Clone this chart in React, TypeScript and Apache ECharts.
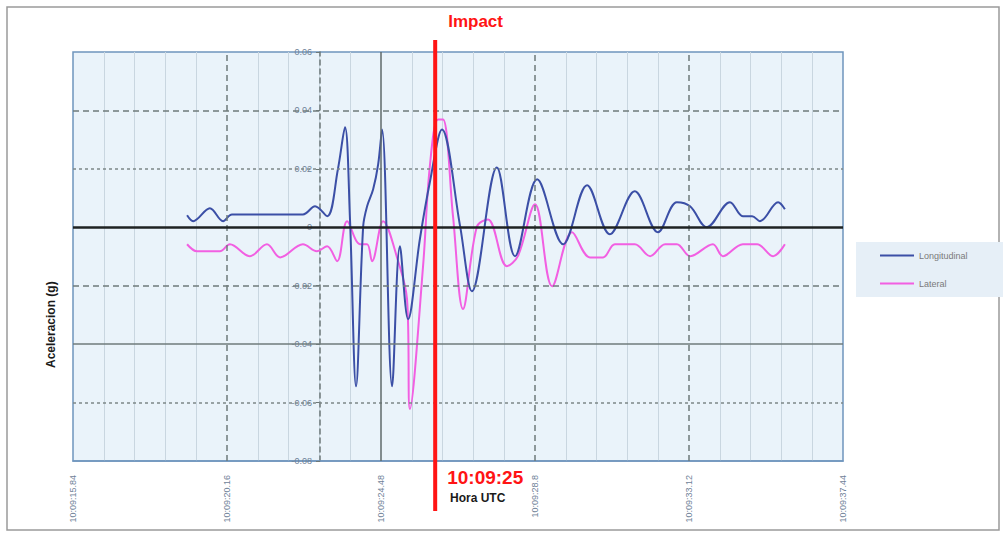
import React, { useEffect, useRef } from "react";
import * as echarts from "echarts";

// ---- data ----
const xTickLabels = ["10:09:15.84", "10:09:20.16", "10:09:24.48", "10:09:28.8", "10:09:33.12", "10:09:37.44"];
const startSec = 15.84; // seconds after 10:09:00 of first tick
const tickStep = 4.32;
const endSec = 37.44;
const yMin = -0.08;
const yMax = 0.06;
const yStep = 0.02;

const longTime = [19.04, 19.21, 19.68, 20.05, 20.3, 22.29, 22.63, 22.97, 23.27, 23.47, 23.61, 23.78, 23.98, 24.09, 24.26, 24.4, 24.51, 24.79, 25.01, 25.24, 25.57, 25.85, 26.19, 26.7, 27.03, 27.73, 28.24, 28.86, 29.59, 30.26, 30.9, 31.6, 32.25, 32.78, 33.15, 33.62, 34.27, 34.63, 34.89, 35.11, 35.62, 35.81];
const longValue = [0.0041, 0.0021, 0.0065, 0.0021, 0.0044, 0.0044, 0.0072, 0.0038, 0.0198, 0.0342, 0.0027, -0.0544, 0.0003, 0.0072, 0.013, 0.0215, 0.0335, -0.0544, -0.0065, -0.0315, -0.0041, 0.0154, 0.0335, 0.0003, -0.0219, 0.0205, -0.0099, 0.0164, -0.0058, 0.0144, -0.0024, 0.0123, -0.0017, 0.0086, 0.0072, 0.0, 0.0086, 0.0038, 0.0038, 0.0021, 0.0086, 0.0062];

const latTime = [19.04, 19.32, 19.96, 20.24, 20.8, 21.28, 21.65, 22.29, 22.68, 22.97, 23.25, 23.53, 23.89, 24.09, 24.23, 24.54, 24.96, 25.21, 25.29, 25.66, 25.85, 26.08, 26.22, 26.5, 26.78, 27.17, 27.48, 28.01, 28.32, 28.8, 29.28, 29.84, 30.34, 30.71, 31.04, 31.6, 32.03, 32.45, 32.78, 33.15, 33.79, 34.07, 34.63, 35.03, 35.48, 35.81];
const latValue = [-0.0058, -0.0082, -0.0082, -0.0058, -0.0099, -0.0058, -0.0103, -0.0058, -0.0082, -0.0065, -0.0116, 0.0021, -0.0058, -0.0058, -0.0116, 0.0021, -0.0116, -0.0246, -0.0622, -0.0133, 0.0209, 0.0369, 0.0369, 0.0038, -0.028, 0.0003, 0.0027, -0.0133, -0.0099, 0.0079, -0.0202, -0.0017, -0.0103, -0.0103, -0.0058, -0.0058, -0.0099, -0.0058, -0.0058, -0.0099, -0.0058, -0.0099, -0.0058, -0.0058, -0.0099, -0.0058];

const impactSec = 26.0;
const impactLabel = "10:09:25";
const seriesNames = ["Longitudinal", "Lateral"];

export default function App() {
  const ref = useRef<HTMLDivElement>(null);
  useEffect(() => {
    if (!ref.current) return;
    const chart = echarts.init(ref.current, null, { renderer: "svg" });
    const toData = (ts: number[], vs: number[]) => ts.map((t, i) => [t - startSec, vs[i]]);
    const gridLine = (c: string, w: number, type: any) => ({ color: c, width: w, type });
    chart.setOption({
      animation: false,
      backgroundColor: "#ffffff",
      textStyle: { fontFamily: "Liberation Sans, Arial, sans-serif" },
      grid: {
        left: 73, top: 52, width: 770, height: 409,
        show: true, backgroundColor: "#eaf3fa", borderColor: "#6f95bd", borderWidth: 1.5,
      },
      legend: {
        data: seriesNames,
        orient: "vertical",
        left: 856, top: 242,
        width: 144,
        padding: [9, 60, 9, 24],
        itemGap: 19,
        itemWidth: 34, itemHeight: 2,
        icon: "rect",
        backgroundColor: "#e6eff7",
        textStyle: { fontSize: 9, color: "#7a7a7a" },
      },
      xAxis: {
        type: "value",
        min: 0, max: endSec - startSec, interval: tickStep,
        axisLine: { onZero: false, show: true, lineStyle: { color: "#6f95bd", width: 1.5 } },
        axisTick: { show: false },
        splitLine: { show: false },
        minorTick: { show: false, splitNumber: 5 },
        minorSplitLine: { show: true, lineStyle: { color: "#c9d6e0", width: 1 } },
        axisLabel: {
          rotate: 90, fontSize: 9, color: "#6f8298", margin: 14,
          formatter: (_v: number, i: number) => xTickLabels[i] ?? "",
        },
      },
      yAxis: {
        type: "value",
        min: yMin, max: yMax, interval: yStep,
        offset: -247,
        axisLine: { onZero: false, show: true, lineStyle: { color: "#6d7878", width: 1.5, type: [5, 4] } },
        axisTick: { show: true, length: 4, lineStyle: { color: "#6d7878" } },
        splitLine: { show: false },
        axisLabel: {
          fontSize: 9, color: "#6f8298", margin: 8,
          formatter: (v: number) => (Math.abs(v) < 1e-9 ? "0" : v.toFixed(2)),
        },
      },
      series: [
        {
          name: "grid",
          type: "line",
          data: [],
          silent: true,
          z: 1,
          markLine: {
            silent: true,
            symbol: ["none", "none"],
            label: { show: false },
            animation: false,
            data: [
              { yAxis: 0.04, lineStyle: gridLine("#6f7b7b", 1.5, [6, 4]) },
              { yAxis: 0.02, lineStyle: gridLine("#7d8888", 1.5, [3, 3]) },
              { yAxis: -0.02, lineStyle: gridLine("#6f7b7b", 1.5, [6, 4]) },
              { yAxis: -0.04, lineStyle: gridLine("#6f7b7b", 1.5, "solid") },
              { yAxis: -0.06, lineStyle: gridLine("#7d8888", 1.5, [3, 3]) },
              { xAxis: tickStep, lineStyle: gridLine("#6f7b7b", 1.5, [6, 4]) },
              { xAxis: tickStep * 2, lineStyle: gridLine("#5f6a6a", 1.5, "solid") },
              { xAxis: tickStep * 3, lineStyle: gridLine("#6f7b7b", 1.5, [6, 4]) },
              { xAxis: tickStep * 4, lineStyle: gridLine("#6f7b7b", 1.5, [6, 4]) },
              { yAxis: 0, lineStyle: gridLine("#1e2222", 2.5, "solid") },
            ],
          },
        },
        {
          name: seriesNames[0],
          type: "line",
          data: toData(longTime, longValue),
          smooth: 0.35,
          symbol: "none",
          z: 3,
          lineStyle: { color: "#3b4fa6", width: 2 },
          itemStyle: { color: "#3b4fa6" },
        },
        {
          name: seriesNames[1],
          type: "line",
          data: toData(latTime, latValue),
          smooth: 0.35,
          symbol: "none",
          z: 2,
          lineStyle: { color: "#f25fe2", width: 2 },
          itemStyle: { color: "#f25fe2" },
        },
      ],
    });

    const px = chart.convertToPixel({ xAxisIndex: 0 }, impactSec - startSec) as number;
    chart.setOption({
      graphic: [
        { type: "rect", shape: { x: 7, y: 7, width: 992, height: 523 }, style: { fill: "none", stroke: "#9a9a9a", lineWidth: 1.5 }, z: 0, silent: true },
        { type: "line", shape: { x1: px, y1: 40, x2: px, y2: 511 }, style: { stroke: "#ff1414", lineWidth: 4 }, z: 100 },
        { type: "text", x: px + 13, y: 13, style: { text: "Impact", fill: "#ff1414", font: "bold 17px Liberation Sans, Arial, sans-serif" }, z: 100 },
        { type: "text", x: px + 12, y: 468, style: { text: impactLabel, fill: "#ff1414", font: "bold 19px Liberation Sans, Arial, sans-serif" }, z: 100 },
        { type: "text", x: 450, y: 492, style: { text: "Hora UTC", fill: "#1a1a1a", font: "bold 12px Liberation Sans, Arial, sans-serif" }, z: 100 },
        { type: "text", x: 45, y: 368, rotation: Math.PI / 2, style: { text: "Aceleracion (g)", fill: "#1a1a1a", font: "bold 12px Liberation Sans, Arial, sans-serif" }, z: 100 },
      ],
    });
    return () => chart.dispose();
  }, []);
  return <div ref={ref} style={{ position: "fixed", left: 0, top: 0, width: 1003, height: 537 }} />;
}
